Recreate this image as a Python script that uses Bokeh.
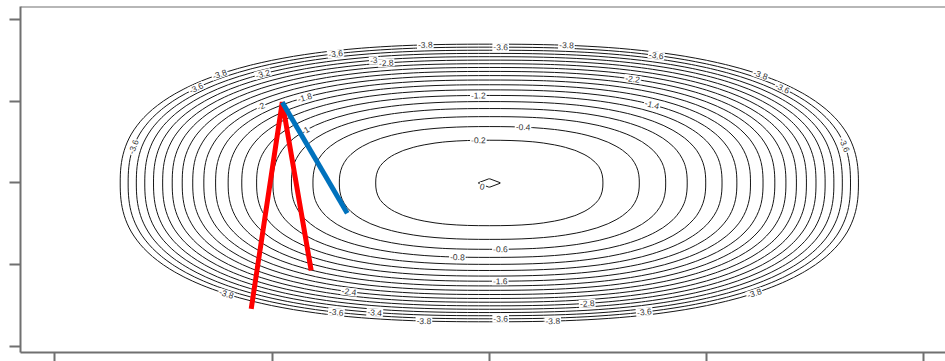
import numpy as np
from bokeh.plotting import figure
from bokeh.models import FixedTicker, Span, ColumnDataSource, CustomLabelingPolicy
from bokeh.core.properties import value
from bokeh.embed import file_html
from bokeh.resources import INLINE

# ---- surface: z = peak - scale * (|x|^p + |y|^p) ----
exponent = 2.5
scale = 1.01
peak = 0.0006
grid_step = 0.05

levels = [-3.8, -3.6, -3.4, -3.2, -3.0, -2.8, -2.6, -2.4, -2.2, -2.0,
          -1.8, -1.6, -1.4, -1.2, -1.0, -0.8, -0.6, -0.4, -0.2, 0.0]

# inline contour labels: level and polar angle (deg, data space) where it sits
label_levels = [-3.8, -3.6, -3.8, -3.6, -3.8, -3.6, -3.6, -2.2, -1.4,
                -3.8, -3.6, -3.2, -3.6, -2.0, -3.6, -3.0, -2.8, -1.8, -1.0,
                -1.2, -0.4, -0.2, 0.0,
                -0.6, -0.8, -1.6, -2.4, -2.8, -3.6, -3.4, -3.8, -3.6, -3.8,
                -3.6, -3.8, -3.8]
label_angles = [99.9, 88.2, 78.1, 63.8, 46.7, 40.7, 15.9, 62.6, 52.0,
                133.0, 139.3, 128.0, 164.9, 138.3, 114.1, 109.5, 107.9, 129.1, 142.8,
                92.7, 77.2, 95.5, 234.0,
                -86.4, -99.2, -87.6, -115.9, -73.0, -114.0, -108.4, -100.1, -88.2, -80.2,
                -65.7, -47.9, -131.7]

# path segments
red_x = [-1.096, -0.953, -0.820]
red_y = [-1.540, 0.989, -1.071]
blue_x = [-0.953, -0.654]
blue_y = [0.989, -0.370]

x_ticks = [-2, -1, 0, 1, 2]
y_ticks = [-2, -1, 0, 1, 2]
x_limits = (-2.158, 2.0998)
y_limits = (-2.075, 2.160)

W, H = 945, 361
border_left, border_right, border_top, border_bottom = 20, 0, 6, 9

p = figure(width=W, height=H, x_range=x_limits, y_range=y_limits,
           output_backend="svg", toolbar_location=None,
           min_border_left=border_left, min_border_right=border_right,
           min_border_top=border_top, min_border_bottom=border_bottom)
p.grid.visible = False
p.outline_line_color = None
p.background_fill_color = "white"
p.border_fill_color = "white"

# contour surface
xs = np.arange(-43, 43) * grid_step
ys = np.arange(-42, 44) * grid_step
X, Y = np.meshgrid(xs, ys)
Z = peak - scale * (np.abs(X) ** exponent + np.abs(Y) ** exponent)
p.contour(x=xs, y=ys, z=Z, levels=levels, line_color="#151515", line_width=1)

# label positions on contours
sx = (W - border_left - border_right) / (x_limits[1] - x_limits[0])
sy = (H - border_top - border_bottom) / (y_limits[1] - y_limits[0])
lx, ly, la, lt = [], [], [], []
for L, th in zip(label_levels, label_angles):
    t = np.radians(th)
    c, s = np.cos(t), np.sin(t)
    r = ((peak - L) / scale / (abs(c) ** exponent + abs(s) ** exponent)) ** (1.0 / exponent)
    x, y = r * c, r * s
    fx = exponent * abs(x) ** (exponent - 1) * np.sign(x)
    fy = exponent * abs(y) ** (exponent - 1) * np.sign(y)
    ang = np.arctan2(fx * sy, -fy * sx)
    if ang > np.pi / 2:
        ang -= np.pi
    elif ang < -np.pi / 2:
        ang += np.pi
    lx.append(x); ly.append(y); la.append(ang); lt.append(f"{L:g}")
src = ColumnDataSource(dict(x=lx, y=ly, angle=la, text=lt))
p.text(x="x", y="y", text="text", angle="angle", source=src,
       text_font=value("Liberation Sans"), text_font_size="8.5px",
       text_color="#333333", text_align="center", text_baseline="middle",
       background_fill_color="white", padding=1)

p.line(red_x, red_y, line_color="#FF0000", line_width=5)
p.line(blue_x, blue_y, line_color="#0072BD", line_width=5)

# axes: left / bottom with outward ticks and no tick labels; top border line
no_labels = CustomLabelingPolicy(code="return new Set()")
for ax, ticks in ((p.xaxis, x_ticks), (p.yaxis, y_ticks)):
    ax.ticker = FixedTicker(ticks=ticks)
    ax.major_label_overrides = {t: "" for t in ticks}
    ax.major_label_policy = no_labels
    ax.major_label_standoff = 0
    ax.minor_tick_line_color = None
    ax.axis_line_color = "#707070"
    ax.axis_line_width = 2
    ax.major_tick_line_color = "#707070"
    ax.major_tick_line_width = 2
    ax.major_tick_in = 0
p.yaxis.major_tick_out = 11
p.xaxis.major_tick_out = 9
p.add_layout(Span(location=y_limits[1], dimension="width",
                  line_color="#707070", line_width=2))

open("out.html", "w").write(file_html(p, INLINE))
